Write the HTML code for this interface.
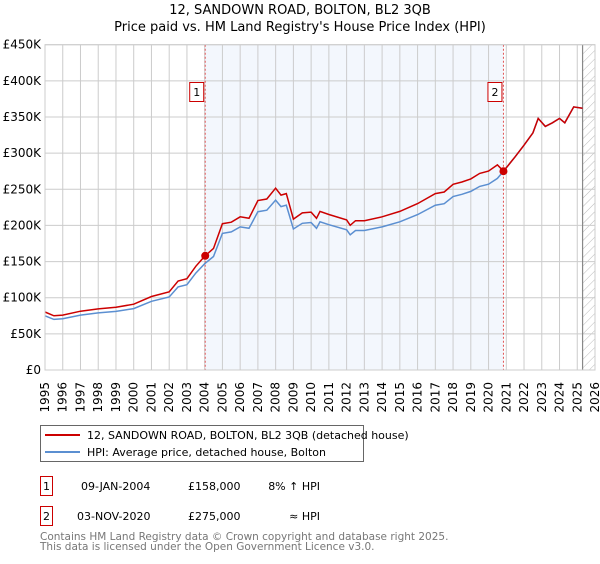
<!DOCTYPE html>
<html><head><meta charset="utf-8"><style>
body{margin:0;background:#fff;width:600px;height:560px;overflow:hidden;font-family:"DejaVu Sans","Liberation Sans",sans-serif;}
svg text{font-family:"DejaVu Sans","Liberation Sans",sans-serif;}
</style></head><body>
<svg id="chart" width="600" height="560" viewBox="0 0 600 560" xmlns="http://www.w3.org/2000/svg">
<defs><pattern id="hatch" width="6" height="6" patternUnits="userSpaceOnUse" patternTransform="rotate(45)"><line x1="0" y1="0" x2="0" y2="6" stroke="#bbb" stroke-width="1"/></pattern></defs>
<text x="300" y="14" text-anchor="middle" font-size="13">12, SANDOWN ROAD, BOLTON, BL2 3QB</text>
<text x="300" y="31" text-anchor="middle" font-size="13">Price paid vs. HM Land Registry's House Price Index (HPI)</text>
<g id="plot"></g>
<g>
<rect x="40.5" y="425.5" width="323" height="36" fill="#fff" stroke="#666"/>
<line x1="45" y1="435" x2="80" y2="435" stroke="#cc0000" stroke-width="2"/>
<text x="87" y="439" font-size="11">12, SANDOWN ROAD, BOLTON, BL2 3QB (detached house)</text>
<line x1="45" y1="452" x2="80" y2="452" stroke="#5b8fd1" stroke-width="2"/>
<text x="87" y="456" font-size="11">HPI: Average price, detached house, Bolton</text>
</g>
<g>
<rect x="40.5" y="476.5" width="12" height="19" fill="#fff" stroke="#cc0000"/>
<text x="46.5" y="490" text-anchor="middle" font-size="11">1</text>
<text x="81" y="490" font-size="11">09-JAN-2004</text>
<text x="188" y="490" font-size="11">£158,000</text>
<text x="320" y="490" font-size="11" text-anchor="end">8% ↑ HPI</text>
</g>
<g>
<rect x="40.5" y="506.5" width="12" height="19" fill="#fff" stroke="#cc0000"/>
<text x="46.5" y="520" text-anchor="middle" font-size="11">2</text>
<text x="77" y="520" font-size="11">03-NOV-2020</text>
<text x="188" y="520" font-size="11">£275,000</text>
<text x="320" y="520" font-size="11" text-anchor="end">≈ HPI</text>
</g>
<text x="40" y="540" font-size="10.5" fill="#777">Contains HM Land Registry data © Crown copyright and database right 2025.</text>
<text x="40" y="550" font-size="10.5" fill="#777">This data is licensed under the Open Government Licence v3.0.</text>
</svg>
<script>
const hpiYears=[1995,1995.5,1996,1997,1998,1999,2000,2001,2002,2002.5,2003,2003.5,2004,2004.5,2005,2005.5,2006,2006.5,2007,2007.5,2008,2008.3,2008.6,2009,2009.5,2010,2010.3,2010.5,2011,2012,2012.2,2012.5,2013,2014,2015,2016,2017,2017.5,2018,2018.5,2019,2019.5,2020,2020.5,2020.84,2021.5,2022,2022.5,2022.8,2023.2,2023.6,2024,2024.3,2024.8,2025.3];
const hpiValues=[75,70,71,76,79,81,85,95,101,115,118,134,147,157,189,191,198,196,219,221,235,226,228,195,203,204,196,205,201,194,187,193,193,198,205,215,228,230,240,243,247,254,257,265,275,295,311,328,348,337,342,348,342,364,362];
const saleYears=[2004.03,2020.84];
const salePrices=[158,275];
const saleLabels=["1","2"];
const yTicks=[0,50,100,150,200,250,300,350,400,450];
const yTickLabels=["£0","£50K","£100K","£150K","£200K","£250K","£300K","£350K","£400K","£450K"];
const xTicks=[];for(let y=1995;y<=2026;y++)xTicks.push(y);
const dataEnd=2025.3;

const L=45,R=595,T=44.7,B=370;
const X=y=>L+(y-1995)/(2026-1995)*(R-L);
const Y=v=>B-v/450*(B-T);
const NS="http://www.w3.org/2000/svg";
const g=document.getElementById('plot');
function mk(t,a){const e=document.createElementNS(NS,t);for(const k in a)e.setAttribute(k,a[k]);g.appendChild(e);return e;}
let e;
e=mk('rect',{x:X(saleYears[0]),y:T,width:X(saleYears[1])-X(saleYears[0]),height:B-T,fill:'#eef3fc',opacity:0.7});


e=mk('rect',{x:X(dataEnd),y:T,width:R-X(dataEnd),height:B-T,fill:'url(#hatch)'});


yTicks.forEach((v,i)=>{
 e=mk('line',{x1:L,x2:R,y1:Y(v),y2:Y(v),stroke:'#ccc','stroke-width':1});
 
 
 e=mk('text',{x:L-4,y:Y(v)+4,'text-anchor':'end','font-size':12});e.textContent=yTickLabels[i];
 
 
});
xTicks.forEach(y=>{
 e=mk('line',{x1:X(y),x2:X(y),y1:T,y2:B,stroke:'#ccc','stroke-width':1});
 
 
 e=mk('text',{x:0,y:0,'text-anchor':'end','font-size':12,transform:`translate(${X(y)+4},382) rotate(-90)`});e.textContent=y;
 
 
});
e=mk('line',{x1:X(dataEnd),x2:X(dataEnd),y1:T,y2:B,stroke:'#888','stroke-width':1.2});


saleYears.forEach((sy,i)=>{
 e=mk('line',{x1:X(sy),x2:X(sy),y1:T,y2:B,stroke:'#e05555','stroke-width':1,'stroke-dasharray':'2,2'});
 
 
 e=mk('rect',{x:X(sy)-15.5,y:82.5,width:14,height:19,fill:'#fff',stroke:'#cc0000'});
 
 
 e=mk('text',{x:X(sy)-8.5,y:96,'text-anchor':'middle','font-size':11});e.textContent=saleLabels[i];
 
 
});
function hpiAt(y){for(let i=0;i<hpiYears.length-1;i++){if(y<=hpiYears[i+1]){const t=(y-hpiYears[i])/(hpiYears[i+1]-hpiYears[i]);return hpiValues[i]+t*(hpiValues[i+1]-hpiValues[i]);}}return hpiValues[hpiValues.length-1];}
const ratio1=salePrices[0]/hpiAt(saleYears[0]);
const ratio2=salePrices[1]/hpiAt(saleYears[1]);
const bluePts=hpiYears.map((y,i)=>X(y).toFixed(1)+','+Y(hpiValues[i]).toFixed(1)).join(' ');
const redPts=hpiYears.map((y,i)=>{const r=y<saleYears[1]?ratio1:ratio2;return X(y).toFixed(1)+','+Y(hpiValues[i]*r).toFixed(1);}).join(' ');
e=mk('polyline',{points:bluePts,fill:'none',stroke:'#5b8fd1','stroke-width':1.5});


e=mk('polyline',{points:redPts,fill:'none',stroke:'#cc0000','stroke-width':1.5});


saleYears.forEach((sy,i)=>{
 e=mk('circle',{cx:X(sy),cy:Y(salePrices[i]),r:4,fill:'#cc0000'});
 
 
});
e=mk('rect',{x:L,y:T,width:R-L,height:B-T,fill:'none',stroke:'#ccc'});


</script>
</body></html>
